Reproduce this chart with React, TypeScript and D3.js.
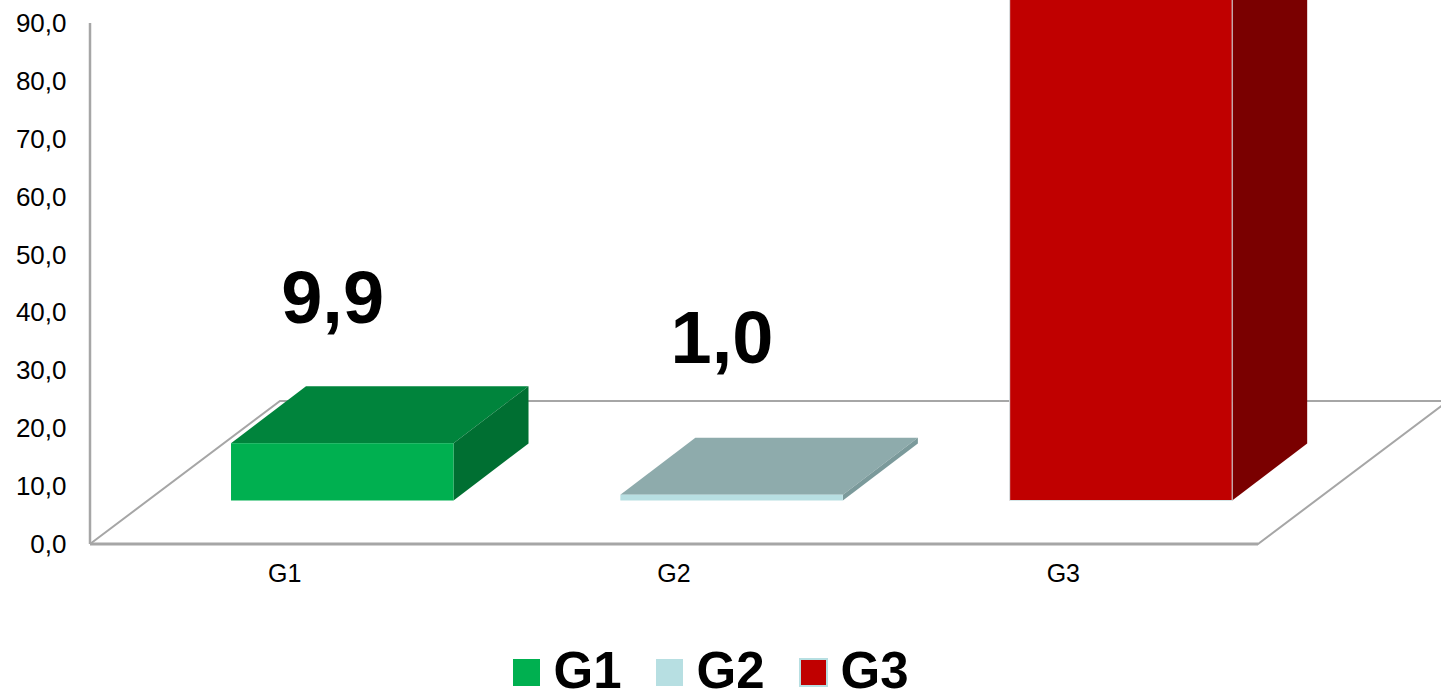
import * as d3 from "d3";

const categories = ["G1", "G2", "G3"];
const values = [9.9, 1.0, 89.1];
const valueLabels = ["9,9", "1,0", null];
const tickValues = [0, 10, 20, 30, 40, 50, 60, 70, 80, 90];

const frontColors = ["#00b050", "#b7dfe2", "#c00000"];
const topColors = ["#00843c", "#8eabac", "#900000"];
const sideColors = ["#006f32", "#7b9a9b", "#7a0000"];

const width = 1441;
const height = 691;
const font = "'Liberation Sans', Arial, sans-serif";
const gridColor = "#a6a6a6";

// oblique projection, in px
const floorDx = 190;
const floorDy = -143;
const barInsetDx = 57.6;
const barInsetDy = -43.5;
const barDepthDx = 75;
const barDepthDy = -57;
// distance from the back top edge of a bar up to its label baseline
const labelGaps = [63, 75, 0];

const yScale = d3.scaleLinear().domain([0, 90]).range([544, 23]);
const xScale = d3
  .scaleBand<string>()
  .domain(categories)
  .range([90, 1258])
  .paddingInner(0.4285)
  .paddingOuter(0.21425);

const line = d3.line();

function Bar({ index }: { index: number }) {
  const cat = categories[index];
  const x0 = xScale(cat)! + barInsetDx;
  const x1 = x0 + xScale.bandwidth();
  const yBase = yScale(0) + barInsetDy;
  const yTop = yScale(values[index]) + barInsetDy;
  const dx = barDepthDx;
  const dy = barDepthDy;

  const top = line([
    [x0, yTop],
    [x1, yTop],
    [x1 + dx, yTop + dy],
    [x0 + dx, yTop + dy],
  ])!;
  const side = line([
    [x1, yBase],
    [x1 + dx, yBase + dy],
    [x1 + dx, yTop + dy],
    [x1, yTop],
  ])!;

  return (
    <g>
      <path d={top + "Z"} fill={topColors[index]} />
      <path d={side + "Z"} fill={sideColors[index]} />
      <rect
        x={x0}
        y={yTop}
        width={x1 - x0}
        height={yBase - yTop}
        fill={frontColors[index]}
      />
      {index === 2 && (
        <path
          d={line([
            [x0, yTop],
            [x0, yBase],
            [x1, yBase],
            [x1, yTop],
          ])!}
          fill="none"
          stroke="#d5e6e8"
          strokeWidth={1}
        />
      )}
    </g>
  );
}

export default function App() {
  const xLeft = xScale.range()[0];
  const xRight = xScale.range()[1];
  const y0 = yScale(0);

  const floorBack = line([
    [xLeft, y0],
    [xLeft + floorDx, y0 + floorDy],
    [xRight + floorDx, y0 + floorDy],
    [xRight, y0],
    [xLeft, y0],
  ])!;

  // legend positions from the left edge of each swatch
  const legendX = d3.scaleOrdinal<string, number>().domain(categories).range([513, 656, 800]);

  return (
    <svg
      width={width}
      height={height}
      viewBox={`0 0 ${width} ${height}`}
      style={{ position: "absolute", top: 0, left: 0, background: "#fff", display: "block" }}
      fontFamily={font}
    >
      <path d={floorBack} fill="none" stroke={gridColor} strokeWidth={2} />
      <line
        x1={xLeft}
        x2={xLeft}
        y1={yScale(90)}
        y2={y0}
        stroke={gridColor}
        strokeWidth={2.5}
      />
      <line x1={xLeft} x2={xRight} y1={y0} y2={y0} stroke={gridColor} strokeWidth={3} />

      {tickValues.map((t) => (
        <text key={t} x={66.5} y={yScale(t) + 9} fontSize={26} textAnchor="end" fill="#000">
          {t.toFixed(1).replace(".", ",")}
        </text>
      ))}

      {categories.map((c, i) => (
        <Bar key={c} index={i} />
      ))}

      {categories.map((c) => (
        <text
          key={c}
          x={xScale(c)! + xScale.bandwidth() / 2}
          y={582}
          fontSize={25}
          textAnchor="middle"
          fill="#000"
        >
          {c}
        </text>
      ))}

      {categories.map((c, i) =>
        valueLabels[i] ? (
          <text
            key={c}
            x={xScale(c)! + xScale.bandwidth() / 2 + 48}
            y={yScale(values[i]) + barInsetDy + barDepthDy - labelGaps[i]}
            fontSize={74}
            fontWeight="bold"
            textAnchor="middle"
            fill="#000"
          >
            {valueLabels[i]}
          </text>
        ) : null,
      )}

      {categories.map((c, i) => (
        <g key={c} transform={`translate(${legendX(c)},0)`}>
          <rect
            x={0}
            y={659}
            width={27}
            height={27}
            fill={frontColors[i]}
            stroke={i === 2 ? "#b7dfe2" : "none"}
            strokeWidth={i === 2 ? 2 : 0}
          />
          <text x={40.5} y={688} fontSize={51} fontWeight="bold" fill="#000">
            {c}
          </text>
        </g>
      ))}
    </svg>
  );
}
